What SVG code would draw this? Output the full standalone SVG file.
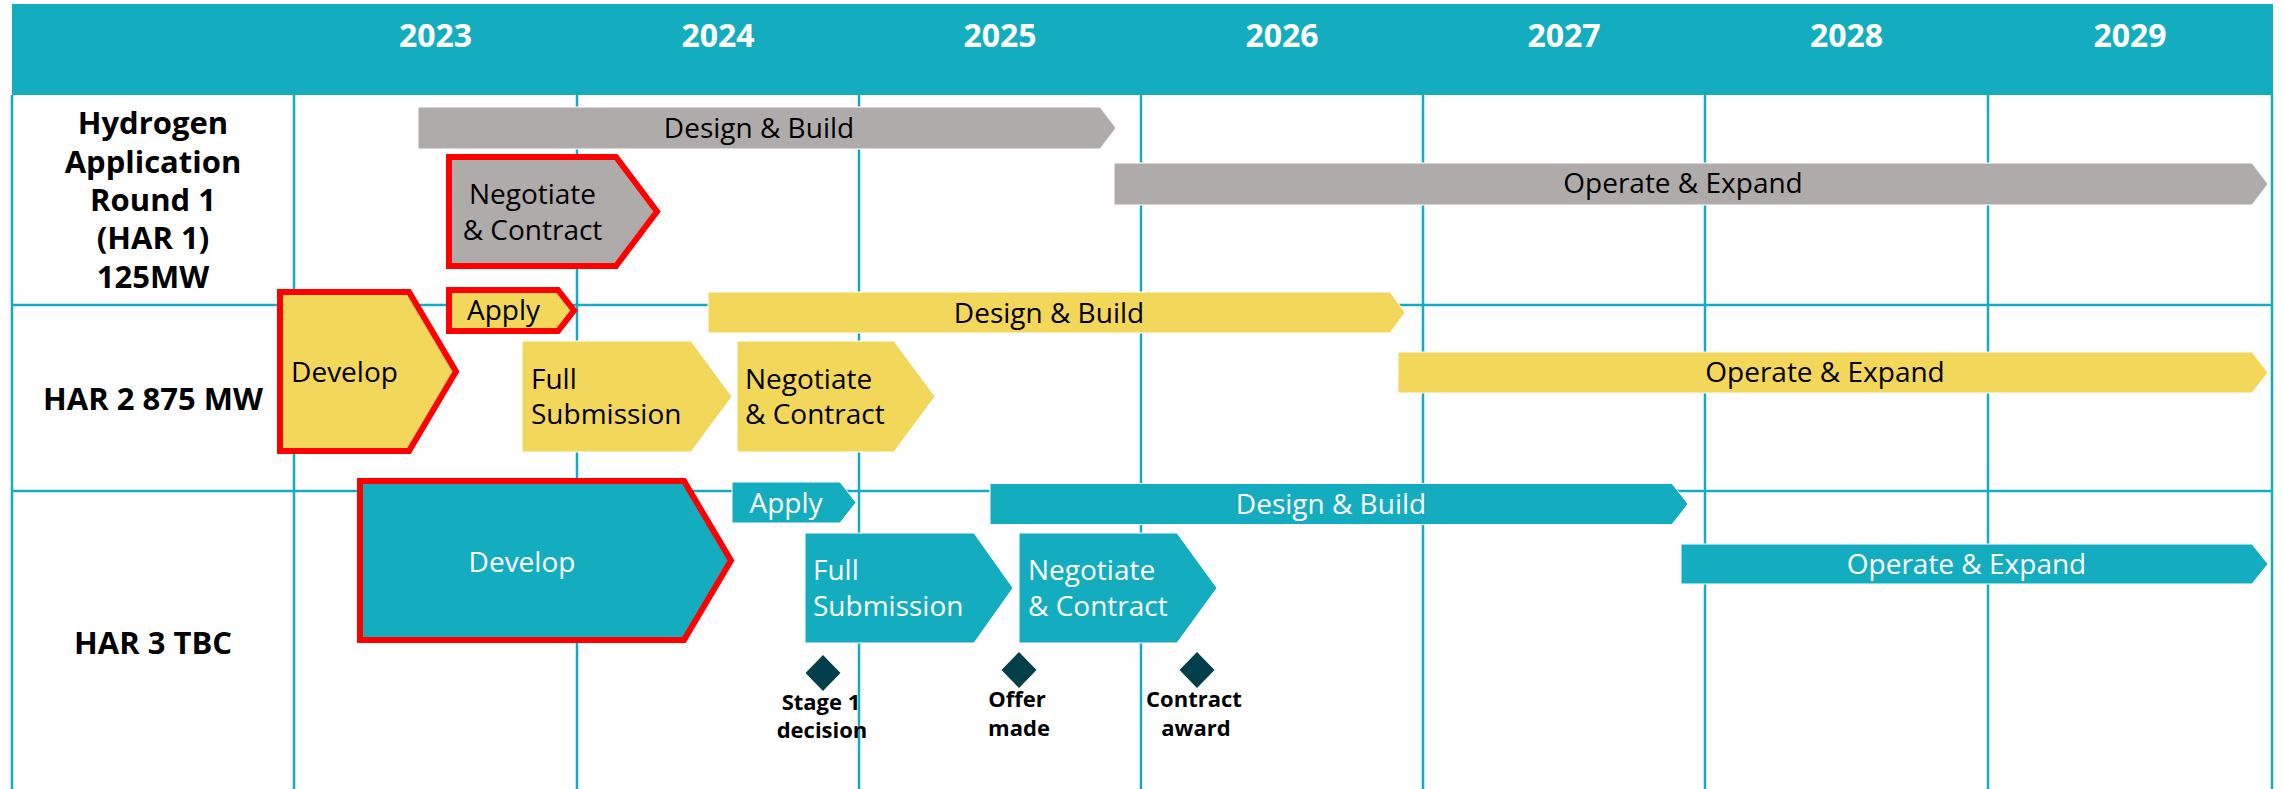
<svg xmlns="http://www.w3.org/2000/svg" width="2283" height="789" viewBox="0 0 2283 789">
<style>
.grid{stroke:#14adc0;stroke-width:2.5;fill:none}
.year{font-family:"Open Sans","Liberation Sans",sans-serif;font-weight:700;font-size:32px;fill:#fff;text-anchor:middle}
.row{font-family:"Open Sans","Liberation Sans",sans-serif;font-weight:700;font-size:31px;fill:#000;text-anchor:middle}
.t{font-family:"Open Sans","Liberation Sans",sans-serif;font-size:28px;fill:#000}
.c{text-anchor:middle}
.w{fill:#fff}
.gray{fill:#afabaa;stroke:#fff;stroke-width:1}
.yel{fill:#f3d75a;stroke:#fff;stroke-width:1}
.teal{fill:#14adc0;stroke:#fff;stroke-width:1}
.red{stroke:#ff0000;stroke-width:6;stroke-linejoin:miter}
.dia{fill:#033e4b}
.ms{font-family:"Open Sans","Liberation Sans",sans-serif;font-weight:700;font-size:22px;fill:#000;text-anchor:middle}
</style>
<rect x="0" y="0" width="2283" height="789" fill="#fff"/>
<g id="header">
<rect x="12" y="4" width="2261" height="91" fill="#14adc0"/>
<text class="year" x="435.5" y="47">2023</text>
<text class="year" x="718" y="47">2024</text>
<text class="year" x="1000" y="47">2025</text>
<text class="year" x="1282" y="47">2026</text>
<text class="year" x="1564" y="47">2027</text>
<text class="year" x="1846.5" y="47">2028</text>
<text class="year" x="2130" y="47">2029</text>
</g>
<g id="grid">
<path class="grid" d="M12,95V789M294,95V789M577,95V789M859,95V789M1141,95V789M1423,95V789M1705,95V789M1988,95V789M2272,95V789M12,305H2272M12,491H2272"/>
</g>
<g id="row-labels">
<text class="row" x="153" y="134">Hydrogen</text>
<text class="row" x="153" y="172.5">Application</text>
<text class="row" x="153" y="211">Round 1</text>
<text class="row" x="153" y="249.3">(HAR 1)</text>
<text class="row" x="153" y="287.6">125MW</text>
<text class="row" x="153" y="410">HAR 2 875 MW</text>
<text class="row" x="153" y="654">HAR 3 TBC</text>
</g>
<g id="har1-design-build"><path class="gray" d="M418,107H1100L1116,128L1100,149H418Z"/><text class="t c" x="759" y="138">Design &amp; Build</text></g>
<g id="har1-operate-expand"><path class="gray" d="M1114,163H2252L2268,184L2252,205H1114Z"/><text class="t c" x="1683" y="193">Operate &amp; Expand</text></g>
<g id="har1-negotiate"><path class="gray red" d="M449,157H616L657,211.5L616,266H449Z"/><text class="t c" x="532.5" y="204">Negotiate</text><text class="t c" x="532.5" y="240">&amp; Contract</text></g>
<g id="har2-develop"><path class="yel red" d="M280,292H409L456,371.5L409,451H280Z"/><text class="t c" x="344.5" y="382">Develop</text></g>
<g id="har2-apply"><path class="yel red" d="M449,290H558L574,310.5L558,331H449Z"/><text class="t c" x="503.5" y="320">Apply</text></g>
<g id="har2-design-build"><path class="yel" d="M708,292H1390L1405,312.5L1390,333H708Z"/><text class="t c" x="1049" y="323">Design &amp; Build</text></g>
<g id="har2-full-submission"><path class="yel" d="M522,341H691L732,396.5L691,452H522Z"/><text class="t" x="531" y="389">Full</text><text class="t" x="531" y="424">Submission</text></g>
<g id="har2-negotiate"><path class="yel" d="M737,341H894L935,396.5L894,452H737Z"/><text class="t" x="745" y="389">Negotiate</text><text class="t" x="745" y="424">&amp; Contract</text></g>
<g id="har2-operate-expand"><path class="yel" d="M1398,352H2252L2268,372.5L2252,393H1398Z"/><text class="t c" x="1825" y="382">Operate &amp; Expand</text></g>
<g id="har3-develop"><path class="teal red" d="M360,481H684L731,560.5L684,640H360Z"/><text class="t c w" x="522" y="572">Develop</text></g>
<g id="har3-apply"><path class="teal" d="M732,482H840L856,502.5L840,523H732Z"/><text class="t c w" x="786" y="513">Apply</text></g>
<g id="har3-design-build"><path class="teal" d="M990,483.5H1672L1688,504L1672,524.5H990Z"/><text class="t c w" x="1331" y="514">Design &amp; Build</text></g>
<g id="har3-full-submission"><path class="teal" d="M805,533H974L1013,588L974,643H805Z"/><text class="t w" x="813" y="580">Full</text><text class="t w" x="813" y="616">Submission</text></g>
<g id="har3-negotiate"><path class="teal" d="M1019,533H1177L1217,588L1177,643H1019Z"/><text class="t w" x="1028" y="580">Negotiate</text><text class="t w" x="1028" y="616">&amp; Contract</text></g>
<g id="har3-operate-expand"><path class="teal" d="M1681,544H2252L2268,564L2252,584H1681Z"/><text class="t c w" x="1966.5" y="573.5">Operate &amp; Expand</text></g>
<g id="milestone-stage1"><path class="dia" d="M823,655L840.5,673L823,691L805.5,673Z"/><text class="ms" x="821" y="710">Stage 1</text><text class="ms" x="822" y="738">decision</text></g>
<g id="milestone-offer"><path class="dia" d="M1019,652L1036.5,670L1019,688L1001.5,670Z"/><text class="ms" x="1017" y="707">Offer</text><text class="ms" x="1019" y="736">made</text></g>
<g id="milestone-contract"><path class="dia" d="M1197,652L1214.5,670L1197,688L1179.5,670Z"/><text class="ms" x="1194" y="707">Contract</text><text class="ms" x="1196" y="736">award</text></g>
<g id="connectors"/>
</svg>
